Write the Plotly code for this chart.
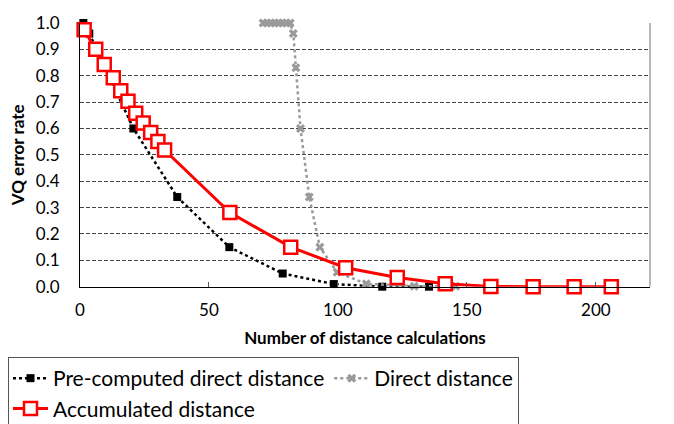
import plotly.graph_objects as go

# Pre-computed direct distance
pre_x = [1.3, 3.6, 20.7, 37.7, 57.9, 78.6, 98.4, 117.2, 135.3]
pre_y = [1.00, 0.96, 0.60, 0.34, 0.15, 0.05, 0.01, 0.00, 0.00]

# Direct distance
dir_x = [71, 72.5, 74, 75.5, 77, 78.5, 80, 81.5, 82.7, 83.7, 85.5, 88.9, 93.0, 99.7, 111.0, 129.6, 145.7]
dir_y = [1.00, 1.00, 1.00, 1.00, 1.00, 1.00, 1.00, 1.00, 0.96, 0.83, 0.60, 0.34, 0.15, 0.055, 0.011, 0.002, 0.002]

# Accumulated distance
acc_x = [1.6, 6.1, 9.4, 12.9, 15.8, 18.6, 21.6, 24.5, 27.4, 30.2, 32.8, 58.1, 81.7, 103.0, 123.0, 141.6, 159.3, 175.7, 191.6, 206.0]
acc_y = [0.974, 0.90, 0.843, 0.792, 0.743, 0.703, 0.658, 0.621, 0.585, 0.551, 0.518, 0.281, 0.150, 0.072, 0.035, 0.011, 0.001, 0.0, 0.0, 0.0]

y_ticks = [0.0, 0.1, 0.2, 0.3, 0.4, 0.5, 0.6, 0.7, 0.8, 0.9, 1.0]
x_ticks = [0, 50, 100, 150, 200]

FONT = "Lato"

fig = go.Figure()
fig.add_trace(go.Scatter(
    x=pre_x, y=pre_y, mode="lines+markers", name="Pre-computed direct distance",
    legendgroup="a",
    line=dict(color="black", width=2.5, dash="dot"),
    marker=dict(symbol="square", size=8, color="black"),
    cliponaxis=False))
fig.add_trace(go.Scatter(
    x=dir_x, y=dir_y, mode="lines+markers", name="Direct distance",
    legendgroup="b",
    line=dict(color="#9a9a9a", width=2.5, dash="dot"),
    marker=dict(symbol="x", size=8, color="#9a9a9a"),
    cliponaxis=False))
fig.add_trace(go.Scatter(
    x=acc_x, y=acc_y, mode="lines+markers", name="Accumulated distance",
    legendgroup="a",
    line=dict(color="#ff0000", width=3),
    marker=dict(symbol="square", size=13, color="white", line=dict(color="#ff0000", width=2.5)),
    cliponaxis=False))

fig.update_layout(
    width=674, height=424,
    margin=dict(l=80, r=24, t=13, b=137),
    paper_bgcolor="white", plot_bgcolor="white",
    font=dict(family=FONT, color="black", size=17),
    showlegend=True,
    legend=dict(
        orientation="h", xref="container", yref="container",
        x=8 / 674, y=1 - 357 / 424, xanchor="left", yanchor="top",
        font=dict(family=FONT, size=21, color="black"),
        bordercolor="#555", borderwidth=1,
        itemwidth=35, tracegroupgap=0, traceorder="grouped",
    ),
    xaxis=dict(
        range=[0, 221], tickvals=x_ticks, ticks="inside", ticklen=5, tickcolor="#555",
        showgrid=False, zeroline=False, showline=True, linecolor="black", linewidth=1,
        mirror=False, ticklabelstandoff=8,
        title=dict(text="<b>Number of distance calculations</b>", font=dict(size=17), standoff=13),
        tickfont=dict(size=17),
    ),
    yaxis=dict(
        range=[0, 1.0], tickvals=y_ticks, ticktext=[f"{v:.1f}" for v in y_ticks],
        showgrid=True, gridcolor="#444", griddash="4px,2px", gridwidth=1,
        zeroline=False, showline=True, linecolor="black", linewidth=1,
        ticks="", ticklabelstandoff=16,
        title=dict(text="<b>VQ error rate</b>", font=dict(size=17), standoff=6),
        tickfont=dict(size=17),
    ),
)
# right border of plot area
fig.add_shape(type="line", xref="paper", yref="paper", x0=1, x1=1, y0=0, y1=1,
              line=dict(color="#777", width=1))

fig.write_html("out.html")
